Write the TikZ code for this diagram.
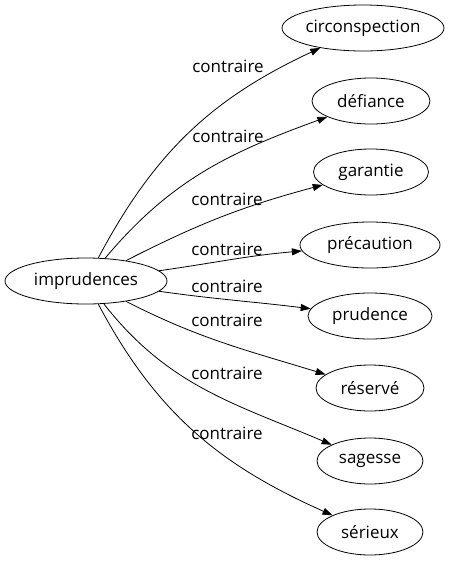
\documentclass[tikz,border=0pt]{standalone}
\usepackage{fontspec}
\setmainfont{Open Sans}
\usetikzlibrary{arrows.meta,shapes.geometric}

\begin{document}
\begin{tikzpicture}[x=1pt,y=1pt,
  word/.style={draw,ellipse,line width=0.8pt,inner xsep=-6pt,inner ysep=0pt,
    minimum height=46pt,font=\fontsize{17}{20}\selectfont},
  rel/.style={line width=0.8pt,-{Triangle[length=10pt,width=7pt]}},
  tag/.style={inner sep=0pt,font=\fontsize{17}{20}\selectfont}]
  \useasboundingbox (0,0) rectangle (466,-563);
  \node[word,minimum width=162pt] (imprudences) at (86,-281) {imprudences};
  \node[word,minimum width=162pt] (circonspection) at (363,-28) {circonspection};
  \node[word,minimum width=118pt] (defiance) at (371,-101) {défiance};
  \node[word,minimum width=115pt] (garantie) at (371,-172) {garantie};
  \node[word,minimum width=140pt] (precaution) at (370,-245) {précaution};
  \node[word,minimum width=124pt] (prudence) at (370,-316) {prudence};
  \node[word,minimum width=108pt] (reserve) at (370,-388) {réservé};
  \node[word,minimum width=106pt] (sagesse) at (370,-461) {sagesse};
  \node[word,minimum width=106pt] (serieux) at (370,-532) {sérieux};
  \draw[rel] (imprudences) to[out=62,in=205] (circonspection);
  \draw[rel] (imprudences) to[out=50,in=200] (defiance);
  \draw[rel] (imprudences) to[out=27,in=195] (garantie);
  \draw[rel] (imprudences) to[out=8,in=185] (precaution);
  \draw[rel] (imprudences) to[out=-8,in=173] (prudence);
  \draw[rel] (imprudences) to[out=-27,in=163] (reserve);
  \draw[rel] (imprudences) to[out=-52,in=157] (sagesse);
  \draw[rel] (imprudences) to[out=-62,in=156] (serieux);
  \node[tag] (c1) at (228,-66) {contraire};
  \node[tag] (c2) at (228,-136) {contraire};
  \node[tag] (c3) at (227,-199) {contraire};
  \node[tag] (c4) at (227,-249) {contraire};
  \node[tag] (c5) at (227,-286) {contraire};
  \node[tag] (c6) at (227,-320) {contraire};
  \node[tag] (c7) at (227,-373) {contraire};
  \node[tag] (c8) at (227,-433) {contraire};
\end{tikzpicture}
\end{document}
